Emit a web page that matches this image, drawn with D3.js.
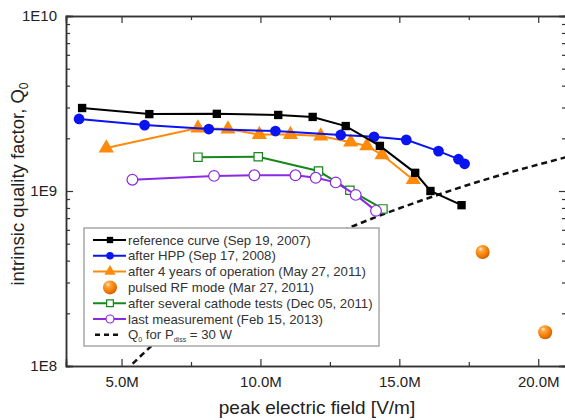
<!DOCTYPE html>
<html>
<head>
<meta charset="utf-8">
<script src="https://cdn.jsdelivr.net/npm/d3@7"></script>
<style>
  body { margin: 0; background: #fff; }
  svg { display: block; font-family: "Liberation Sans", Arial, sans-serif; }
</style>
</head>
<body>
<div id="chart"></div>
<script>
// peak field in MV/m, Q0
const refE = [3.58, 6.0, 8.43, 10.64, 11.88, 13.07, 14.3, 15.57, 16.12, 17.24]
const refQ = [2.98e9, 2.75e9, 2.76e9, 2.72e9, 2.65e9, 2.35e9, 1.81e9, 1.27e9, 1.0e9, 8.3e8]

const hppE = [3.47, 5.83, 8.14, 10.54, 12.89, 14.09, 15.25, 16.41, 17.13, 17.35]
const hppQ = [2.58e9, 2.38e9, 2.26e9, 2.2e9, 2.09e9, 2.04e9, 1.96e9, 1.69e9, 1.52e9, 1.43e9]

const opE = [4.45, 7.75, 8.83, 9.96, 11.08, 12.17, 13.25, 13.83, 14.38, 15.5]
const opQ = [1.76e9, 2.29e9, 2.26e9, 2.1e9, 2.1e9, 2.06e9, 1.9e9, 1.81e9, 1.61e9, 1.16e9]

const pulsedE = [18.0, 20.25]
const pulsedQ = [4.48e8, 1.56e8]

const cathE = [7.75, 9.92, 12.09, 13.22, 14.41]
const cathQ = [1.56e9, 1.57e9, 1.3e9, 1.01e9, 7.9e8]

const lastE = [5.39, 8.33, 9.78, 11.26, 11.99, 12.71, 13.43, 14.16]
const lastQ = [1.16e9, 1.22e9, 1.23e9, 1.23e9, 1.19e9, 1.12e9, 9.5e8, 7.7e8]

const pdissE = [5.4, 6, 8, 10, 12, 14, 16, 18, 21]
const pdissQ = [1.03e8, 1.27e8, 2.27e8, 3.54e8, 5.1e8, 6.94e8, 9.06e8, 1.15e9, 1.56e9]

const xTickVals = [5, 10, 15, 20]
const xMinorVals = [7.5, 12.5, 17.5]
const yTickVals = [1e8, 1e9, 1e10]
const yTickLabels = ["1E8", "1E9", "1E10"]

const labels = [
    "reference curve (Sep 19, 2007)",
    "after HPP (Sep 17, 2008)",
    "after 4 years of operation (May 27, 2011)",
    "pulsed RF mode (Mar 27, 2011)",
    "after several cathode tests (Dec 05, 2011)",
    "last measurement (Feb 15, 2013)"
]

const W = 565, H = 420
const margin = { top: 16, right: -1, bottom: 54, left: 66 }

const svg = d3.select("#chart").append("svg")
    .attr("width", W)
    .attr("height", H)

const x = d3.scaleLinear().domain([3, 21]).range([margin.left, W - margin.right])
const y = d3.scaleLog().domain([1e8, 1e10]).range([H - margin.bottom, margin.top])

const defs = svg.append("defs")
const grad = defs.append("radialGradient").attr("id", "ball")
    .attr("cx", "40%").attr("cy", "35%").attr("r", "65%").attr("fx", "35%").attr("fy", "28%")
grad.append("stop").attr("offset", "0%").attr("stop-color", "#fff4e0")
grad.append("stop").attr("offset", "25%").attr("stop-color", "#ffa640")
grad.append("stop").attr("offset", "75%").attr("stop-color", "#f07800")
grad.append("stop").attr("offset", "100%").attr("stop-color", "#d06000")

// minor log ticks
const minorY = []
for (let dec = 1e8; dec < 1e10; dec *= 10) {
    for (let k = 2; k <= 9; k++) minorY.push(dec * k)
}

// axes (ticks pointing inward)
const axisG = svg.append("g")
axisG.append("g")
    .attr("transform", `translate(0,${y(1e8)})`)
    .call(d3.axisBottom(x).tickValues(xTickVals).tickSize(-7).tickFormat(d => d.toFixed(1) + "M").tickPadding(10))
axisG.append("g")
    .attr("transform", `translate(0,${y(1e8)})`)
    .call(d3.axisBottom(x).tickValues(xMinorVals).tickSize(-4).tickFormat(""))
axisG.append("g")
    .attr("transform", `translate(0,${y(1e10)})`)
    .call(d3.axisTop(x).tickValues(xTickVals).tickSize(-7).tickFormat(""))
axisG.append("g")
    .attr("transform", `translate(0,${y(1e10)})`)
    .call(d3.axisTop(x).tickValues(xMinorVals).tickSize(-4).tickFormat(""))
axisG.append("g")
    .attr("transform", `translate(${x(3)},0)`)
    .call(d3.axisLeft(y).tickValues(yTickVals).tickSize(-7).tickFormat((d, i) => yTickLabels[i]).tickPadding(9))
axisG.append("g")
    .attr("transform", `translate(${x(3)},0)`)
    .call(d3.axisLeft(y).tickValues(minorY).tickSize(-4).tickFormat(""))
axisG.append("g")
    .attr("transform", `translate(${x(21)},0)`)
    .call(d3.axisRight(y).tickValues(yTickVals).tickSize(-7).tickFormat(""))
axisG.append("g")
    .attr("transform", `translate(${x(21)},0)`)
    .call(d3.axisRight(y).tickValues(minorY).tickSize(-4).tickFormat(""))

axisG.selectAll("path.domain").attr("stroke", "#333").attr("stroke-width", 1.5)
axisG.selectAll(".tick line").attr("stroke", "#333").attr("stroke-width", 1.2)
axisG.selectAll("text")
    .attr("font-size", "15px")
    .attr("font-family", "Liberation Sans, Arial, sans-serif")
    .attr("fill", "#222")

// axis titles
svg.append("text")
    .attr("x", (x(3) + x(21)) / 2 + 1)
    .attr("y", 414)
    .attr("text-anchor", "middle")
    .attr("font-size", "19px")
    .attr("fill", "#222")
    .text("peak electric field [V/m]")

const yTitle = svg.append("text")
    .attr("transform", "translate(24,184) rotate(-90)")
    .attr("text-anchor", "middle")
    .attr("font-size", "18.5px")
    .attr("fill", "#222")
yTitle.append("tspan").text("intrinsic quality factor, Q")
yTitle.append("tspan").attr("font-size", "12px").attr("dy", 4).text("0")

const plot = svg.append("g")

// P_diss = 30 W curve (drawn first so the legend covers it)
plot.append("path")
    .datum(pdissE.map((e, i) => [e, pdissQ[i]]))
    .attr("fill", "none")
    .attr("stroke", "#111")
    .attr("stroke-width", 2.5)
    .attr("stroke-dasharray", "6,4")
    .attr("d", d3.line().x(d => x(d[0])).y(d => y(d[1])).curve(d3.curveMonotoneX))

function drawSeries(es, qs, color, shape, open) {
    const pts = es.map((e, i) => [e, qs[i]])
    plot.append("path")
        .datum(pts)
        .attr("fill", "none")
        .attr("stroke", color)
        .attr("stroke-width", 2)
        .attr("d", d3.line().x(d => x(d[0])).y(d => y(d[1])))
    const size = shape === d3.symbolTriangle ? 100 : (shape === d3.symbolSquare ? 70 : 90)
    plot.selectAll(null)
        .data(pts)
        .enter().append("path")
        .attr("transform", d => `translate(${x(d[0])},${y(d[1])})`)
        .attr("d", d3.symbol().type(shape).size(size))
        .attr("fill", open ? "#fff" : color)
        .attr("stroke", color)
        .attr("stroke-width", open ? 1.2 : 0)
}

drawSeries(cathE, cathQ, "#14891a", d3.symbolSquare, true)
drawSeries(lastE, lastQ, "#8a2be2", d3.symbolCircle, true)
drawSeries(opE, opQ, "#ff8a0a", d3.symbolTriangle, false)
drawSeries(hppE, hppQ, "#0a14f0", d3.symbolCircle, false)
drawSeries(refE, refQ, "#000", d3.symbolSquare, false)

plot.selectAll(null)
    .data(pulsedE.map((e, i) => [e, pulsedQ[i]]))
    .enter().append("circle")
    .attr("cx", d => x(d[0]))
    .attr("cy", d => y(d[1]))
    .attr("r", 7)
    .attr("fill", "url(#ball)")

// legend
const leg = svg.append("g")
leg.append("rect")
    .attr("x", 84).attr("y", 228)
    .attr("width", 295).attr("height", 118)
    .attr("fill", "#fff")
    .attr("stroke", "#a8a8a8")
    .attr("stroke-width", 1.5)

const legStyles = [
    { color: "#000", shape: d3.symbolSquare, open: false, size: 40 },
    { color: "#0a14f0", shape: d3.symbolCircle, open: false, size: 45 },
    { color: "#ff8a0a", shape: d3.symbolTriangle, open: false, size: 55 },
    { color: null },
    { color: "#14891a", shape: d3.symbolSquare, open: true, size: 45 },
    { color: "#8a2be2", shape: d3.symbolCircle, open: true, size: 50 }
]

labels.forEach((lab, i) => {
    const ly = 240 + i * 15.8
    const st = legStyles[i]
    if (st.color) {
        leg.append("line")
            .attr("x1", 93).attr("x2", 126).attr("y1", ly).attr("y2", ly)
            .attr("stroke", st.color).attr("stroke-width", 2)
        leg.append("path")
            .attr("transform", `translate(110,${ly})`)
            .attr("d", d3.symbol().type(st.shape).size(st.size))
            .attr("fill", st.open ? "#fff" : st.color)
            .attr("stroke", st.color)
            .attr("stroke-width", st.open ? 1.2 : 0)
    } else {
        leg.append("circle")
            .attr("cx", 110).attr("cy", ly).attr("r", 7)
            .attr("fill", "url(#ball)")
    }
    leg.append("text")
        .attr("x", 128).attr("y", ly + 4.5)
        .attr("font-size", "13.2px")
        .attr("fill", "#333")
        .text(lab)
})

const lastY = 240 + 6 * 15.8
leg.append("line")
    .attr("x1", 95).attr("x2", 120).attr("y1", lastY).attr("y2", lastY)
    .attr("stroke", "#111").attr("stroke-width", 2.5)
    .attr("stroke-dasharray", "5,4")
const pt = leg.append("text")
    .attr("x", 128).attr("y", lastY + 4.5)
    .attr("font-size", "13.2px")
    .attr("fill", "#333")
pt.append("tspan").text("Q")
pt.append("tspan").attr("font-size", "7px").attr("dy", 3).text("0")
pt.append("tspan").attr("dy", -3).text(" for P")
pt.append("tspan").attr("font-size", "7px").attr("dy", 3).text("diss")
pt.append("tspan").attr("dy", -3).text(" = 30 W")
</script>
</body>
</html>
